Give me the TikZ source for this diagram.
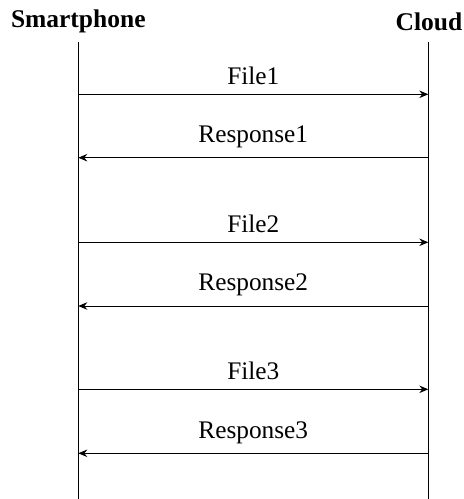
\documentclass[tikz,border=0pt]{standalone}
\usepackage{fontspec}
\setmainfont{Liberation Serif}
\usetikzlibrary{arrows.meta}
\begin{document}
\begin{tikzpicture}[x=1pt,y=1pt,
  actor/.style={font=\fontsize{25.5}{30}\selectfont\bfseries, inner sep=0pt},
  lifeline/.style={line width=0.9pt},
  msg/.style={line width=0.8pt, -{Stealth[length=9pt,width=7.5pt,inset=3pt]}},
  msglabel/.style={font=\fontsize{25.3}{30}\selectfont, above, inner sep=0pt, yshift=9.5pt}]
\useasboundingbox (0,0) rectangle (464,-499);

% participants
\node[actor] (phone) at (78.3,-21.5) {Smartphone};
\node[actor] (cloud) at (429,-21.5) {Cloud};

% lifelines
\coordinate (pTop) at (78.3,-42);
\coordinate (pBot) at (78.3,-499);
\coordinate (cTop) at (428.3,-42);
\coordinate (cBot) at (428.3,-499);
\draw[lifeline] (pTop) -- (pBot);
\draw[lifeline] (cTop) -- (cBot);

% message rows on both lifelines
\foreach \i/\y in {1/94.3, 2/157.7, 3/242.3, 4/306, 5/389.3, 6/453.3} {
  \coordinate (p\i) at (pTop |- 0,-\y);
  \coordinate (c\i) at (cTop |- 0,-\y);
}

% requests and responses
\draw[msg] (p1) -- node[msglabel] {File1} (c1);
\draw[msg] (c2) -- node[msglabel] {Response1} (p2);
\draw[msg] (p3) -- node[msglabel] {File2} (c3);
\draw[msg] (c4) -- node[msglabel] {Response2} (p4);
\draw[msg] (p5) -- node[msglabel] {File3} (c5);
\draw[msg] (c6) -- node[msglabel] {Response3} (p6);
\end{tikzpicture}
\end{document}
